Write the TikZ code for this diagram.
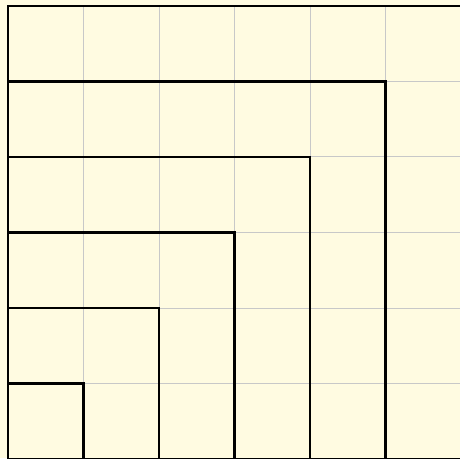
\documentclass[tikz,border=0pt]{standalone}
\definecolor{cream}{RGB}{255,251,225}
\definecolor{gridgray}{RGB}{200,200,200}
\tikzset{gridline/.style={draw=gridgray,line width=1pt},
  sqline/.style={draw=black,line width=2.6pt,line join=miter}}
\begin{document}
\begin{tikzpicture}[x=1pt,y=1pt]
\fill[cream] (0,0) rectangle (460,458);
\useasboundingbox (0,0) rectangle (460,458);
\clip (0,0) rectangle (460,458);
\def\cw{75.5}
\foreach \i in {0,...,5} {
  \draw[gridline] ({8+\i*\cw},-1) -- ({8+\i*\cw},{-1+6*\cw});
}
\foreach \i in {0,...,6} {
  \draw[gridline] (8,{-1+\i*\cw}) -- (470,{-1+\i*\cw});
}
\foreach \k in {1,...,5} {
  \draw[sqline] (8,-1) rectangle ({8+\k*\cw},{-1+\k*\cw});
}
\draw[sqline] (8,-1) rectangle (466,{-1+6*\cw});
\end{tikzpicture}
\end{document}
